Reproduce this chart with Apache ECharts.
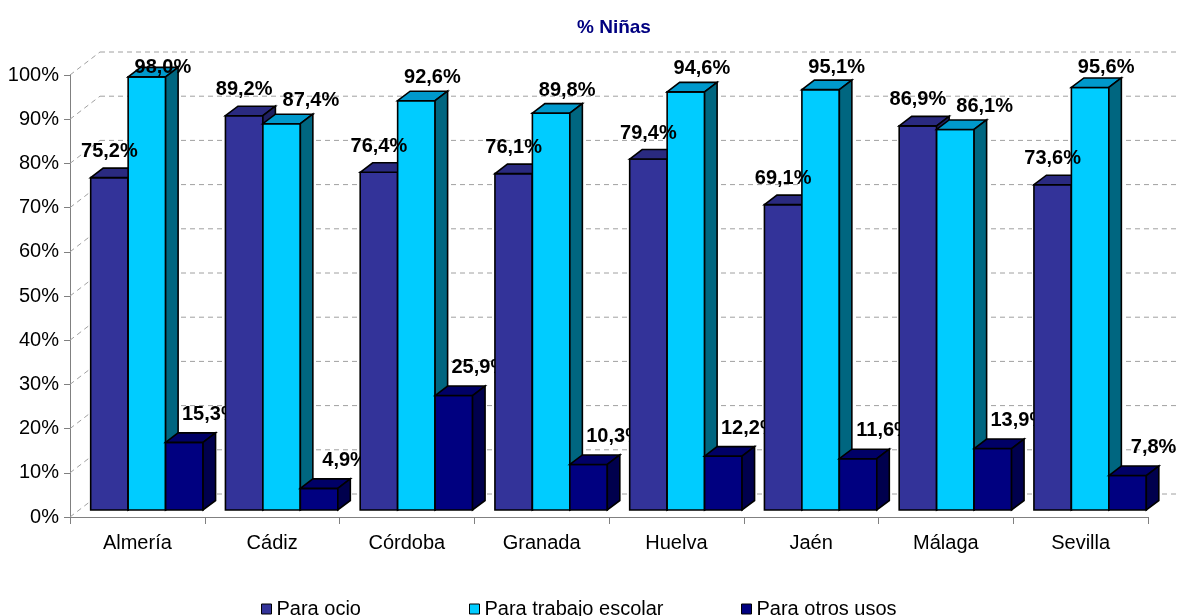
<!DOCTYPE html>
<html><head><meta charset="utf-8">
<script src="https://cdn.jsdelivr.net/npm/echarts@6/dist/echarts.min.js"></script>
<style>html,body{margin:0;padding:0;background:#fff}#c{width:1186px;height:616px}</style>
</head><body><div id="c"></div>
<script>
const categories = ['Almería','Cádiz','Córdoba','Granada','Huelva','Jaén','Málaga','Sevilla'];
const paraOcio = [75.2, 89.2, 76.4, 76.1, 79.4, 69.1, 86.9, 73.6];
const paraTrabajo = [98.0, 87.4, 92.6, 89.8, 94.6, 95.1, 86.1, 95.6];
const paraOtros = [15.3, 4.9, 25.9, 10.3, 12.2, 11.6, 13.9, 7.8];
const yTicks = [0, 10, 20, 30, 40, 50, 60, 70, 80, 90, 100];
const seriesNames = ['Para ocio', 'Para trabajo escolar', 'Para otros usos'];
const titleText = '% Niñas';

const values = [paraOcio, paraTrabajo, paraOtros];
const FONT = '"Liberation Sans", Arial, sans-serif';
const faceColors = [
  {front: '#333399', top: '#2a2a80', side: '#1f1f60'},
  {front: '#00ccff', top: '#0099cc', side: '#006680'},
  {front: '#000080', top: '#000066', side: '#00004d'}
];
const WALL = [30, -23];
const BAR_FRONT = [9.5, -7];
const BAR_DEPTH = [12.5, -9.5];
const LABEL_OFF = [[0, -26], [16, -23], [26, -28]];

const mctx = document.createElement('canvas').getContext('2d');
mctx.font = 'bold 20px ' + FONT;
function fmt(v) { return v.toFixed(1).replace('.', ',') + '%'; }
function textW(t) { return mctx.measureText(t).width; }

function barGeom(api, s, i) {
  const c = api.coord([i, values[s][i]]);
  const b = api.coord([i, 0]);
  const catW = api.size([1, 0])[0];
  const bw = catW * 0.278;
  const x = c[0] - 1.5 * bw + s * bw + BAR_FRONT[0];
  return {x: x, bw: bw, top: c[1] + BAR_FRONT[1], base: b[1] + BAR_FRONT[1]};
}
function labelPos(api, s, i) {
  const g = barGeom(api, s, i);
  let cx = g.x + g.bw / 2 + LABEL_OFF[s][0];
  let cy = g.top + LABEL_OFF[s][1];
  const minY = api.coord([i, 100])[1] - 8;
  if (cy < minY) cy = minY;
  if (s === 1) {
    const p = labelPos(api, 0, i);
    const wPrev = textW(fmt(values[0][i])), w = textW(fmt(values[1][i]));
    if (Math.abs(p[1] - cy) < 22) {
      const minCx = p[0] + wPrev / 2 + 10 + w / 2;
      if (cx < minCx) cx = minCx;
    }
  }
  return [cx, cy];
}
function makeRender(s) {
  return function (params, api) {
    const i = api.value(0);
    const g = barGeom(api, s, i);
    const dx = BAR_DEPTH[0], dy = BAR_DEPTH[1];
    const col = faceColors[s];
    const z = i * 10 + s;
    const st = function (f) { return {fill: f, stroke: '#000', lineWidth: 1.6, lineJoin: 'miter'}; };
    const lp = labelPos(api, s, i);
    return {type: 'group', children: [
      {type: 'rect', shape: {x: g.x, y: g.top, width: g.bw, height: g.base - g.top}, style: st(col.front), z2: z},
      {type: 'polygon', shape: {points: [[g.x, g.top], [g.x + dx, g.top + dy], [g.x + g.bw + dx, g.top + dy], [g.x + g.bw, g.top]]}, style: st(col.top), z2: z},
      {type: 'polygon', shape: {points: [[g.x + g.bw, g.top], [g.x + g.bw + dx, g.top + dy], [g.x + g.bw + dx, g.base + dy], [g.x + g.bw, g.base]]}, style: st(col.side), z2: z},
      {type: 'text', style: {text: fmt(api.value(1)), x: lp[0], y: lp[1], align: 'center', verticalAlign: 'middle', font: 'bold 20px ' + FONT, fill: '#000'}, z2: i * 10 + 5}
    ]};
  };
}

const chart = echarts.init(document.getElementById('c'), null, {renderer: 'canvas'});
const series = [{
  type: 'custom', name: 'grid', z: 1, silent: true, clip: false,
  data: yTicks.map(function (v) { return [0, v]; }),
  renderItem: function (params, api) {
    const cs = params.coordSys;
    const y = api.coord([0, api.value(1)])[1];
    const ls = {stroke: '#a0a0a0', lineWidth: 1, lineDash: [5, 4], fill: null};
    return {type: 'group', children: [
      {type: 'line', shape: {x1: cs.x, y1: y, x2: cs.x + WALL[0], y2: y + WALL[1]}, style: ls},
      {type: 'line', shape: {x1: cs.x + WALL[0], y1: y + WALL[1], x2: cs.x + cs.width + WALL[0], y2: y + WALL[1]}, style: ls}
    ]};
  }
}];
seriesNames.forEach(function (n, s) {
  series.push({
    type: 'custom', name: n, z: 2, clip: false,
    itemStyle: {color: faceColors[s].front},
    encode: {x: 0, y: 1},
    data: values[s].map(function (v, i) { return [i, v]; }),
    renderItem: makeRender(s)
  });
});
const legendLefts = [256, 464, 736];
chart.setOption({
  animation: false,
  backgroundColor: '#fff',
  title: {text: titleText, left: 572, top: 13, textStyle: {fontSize: 19, fontWeight: 'bold', color: '#000080', fontFamily: FONT}},
  legend: seriesNames.map(function (n, k) {
    return {data: [n], left: legendLefts[k], top: 594, icon: 'rect', itemWidth: 10, itemHeight: 10, itemGap: 0,
      selectedMode: false, textStyle: {fontSize: 20, color: '#000', fontFamily: FONT},
      itemStyle: {borderColor: '#000', borderWidth: 1}};
  }),
  grid: {left: 70, right: 38, top: 75, bottom: 99, containLabel: false},
  xAxis: {type: 'category', data: categories, boundaryGap: true,
    axisLine: {lineStyle: {color: '#808080', width: 1}},
    axisTick: {show: true, length: 7, alignWithLabel: false, lineStyle: {color: '#808080'}},
    axisLabel: {fontSize: 20, color: '#000', fontFamily: FONT, margin: 16},
    splitLine: {show: false}},
  yAxis: {type: 'value', min: 0, max: 100, interval: 10,
    axisLine: {show: true, lineStyle: {color: '#808080', width: 1}},
    axisTick: {show: true, length: 6, lineStyle: {color: '#808080'}},
    axisLabel: {fontSize: 20, color: '#000', fontFamily: FONT, margin: 11, formatter: '{value}%'},
    splitLine: {show: false}},
  series: series
});
</script>
</body></html>
